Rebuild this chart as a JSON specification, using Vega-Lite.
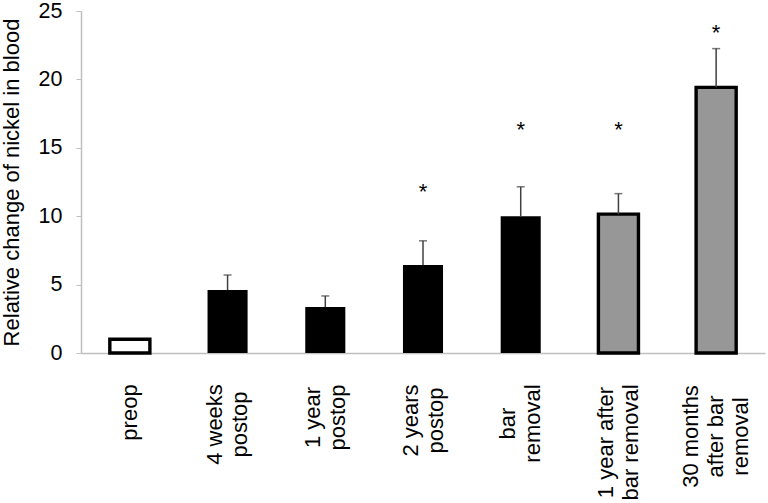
{
  "$schema": "https://vega.github.io/schema/vega-lite/v6.json",
  "width": 684,
  "height": 342,
  "autosize": {"type": "none"},
  "padding": {"left": 81, "top": 11, "right": 3, "bottom": 150},
  "background": "white",
  "config": {"view": {"stroke": null}, "font": "Liberation Sans"},
  "data": {
    "values": [
      {"time": "preop", "group": "baseline", "value": 1.0, "upper": null, "star": null},
      {"time": "4 weeks|postop", "group": "with bar", "value": 4.6, "upper": 5.7, "star": null},
      {"time": "1 year|postop", "group": "with bar", "value": 3.36, "upper": 4.17, "star": null},
      {"time": "2 years|postop", "group": "with bar", "value": 6.43, "upper": 8.2, "star": 12.2},
      {"time": "bar|removal", "group": "with bar", "value": 10.0, "upper": 12.15, "star": 16.7},
      {"time": "1 year after|bar removal", "group": "after removal", "value": 10.15, "upper": 11.65, "star": 16.7},
      {"time": "30 months|after bar|removal", "group": "after removal", "value": 19.42, "upper": 22.25, "star": 23.8}
    ]
  },
  "encoding": {
    "x": {
      "field": "time",
      "type": "nominal",
      "sort": null,
      "scale": {"paddingInner": 0.59, "paddingOuter": 0.295},
      "axis": {
        "title": null,
        "ticks": false,
        "domainColor": "#bfbfbf",
        "domainWidth": 1.5,
        "labelAngle": -90,
        "labelAlign": "center",
        "labelBaseline": "middle",
        "labelExpr": "split(datum.value, '|')",
        "labelFont": "Liberation Sans",
        "labelFontSize": 22,
        "labelLineHeight": 25,
        "labelColor": "black",
        "labelOverlap": false,
        "labelBound": false,
        "labelFlush": false,
        "labelLimit": 0,
        "labelOffset": {
          "condition": [
            {"test": "datum.value === 'preop'", "value": 0},
            {"test": "datum.value === '30 months|after bar|removal'", "value": -25}
          ],
          "value": -12.5
        },
        "labelPadding": {
          "condition": [
            {"test": "datum.value === 'preop'", "value": 59},
            {"test": "datum.value === '4 weeks|postop'", "value": 71},
            {"test": "datum.value === '1 year|postop'", "value": 64},
            {"test": "datum.value === '2 years|postop'", "value": 67},
            {"test": "datum.value === 'bar|removal'", "value": 70},
            {"test": "datum.value === '1 year after|bar removal'", "value": 89}
          ],
          "value": 83
        }
      }
    }
  },
  "layer": [
    {
      "mark": {"type": "bar", "stroke": "black"},
      "encoding": {
        "y": {
          "field": "value",
          "type": "quantitative",
          "scale": {"domain": [0, 25], "nice": false},
          "axis": {
            "title": "Relative change of nickel in blood",
            "titleFont": "Liberation Sans",
            "titleFontSize": 22,
            "titleFontWeight": "normal",
            "titleColor": "black",
            "titleAnchor": "middle",
            "titleBaseline": "alphabetic",
            "titleX": -62.5,
            "values": [0, 5, 10, 15, 20, 25],
            "grid": false,
            "domainColor": "#bfbfbf",
            "domainWidth": 1.5,
            "tickColor": "#bfbfbf",
            "tickSize": 5,
            "labelFont": "Liberation Sans",
            "labelFontSize": 21.5,
            "labelColor": "black",
            "labelPadding": 14
          }
        },
        "fill": {
          "field": "group",
          "type": "nominal",
          "scale": {"domain": ["baseline", "with bar", "after removal"], "range": ["white", "black", "#979797"]},
          "legend": null
        },
        "strokeWidth": {
          "condition": {"test": "datum.group === 'with bar'", "value": 0},
          "value": 3.4
        }
      }
    },
    {
      "transform": [{"filter": "isValid(datum.upper)"}],
      "mark": {"type": "rule", "color": "#404040", "strokeWidth": 1.5},
      "encoding": {
        "y": {"field": "value", "type": "quantitative"},
        "y2": {"field": "upper"}
      }
    },
    {
      "transform": [{"filter": "isValid(datum.upper)"}],
      "mark": {"type": "tick", "color": "#404040", "size": 8, "thickness": 1.5},
      "encoding": {
        "y": {"field": "upper", "type": "quantitative"}
      }
    },
    {
      "transform": [{"filter": "isValid(datum.star)"}],
      "mark": {"type": "text", "text": "*", "font": "Liberation Sans", "fontSize": 22, "baseline": "alphabetic", "dy": 12.5, "color": "black"},
      "encoding": {
        "y": {"field": "star", "type": "quantitative"}
      }
    }
  ]
}
